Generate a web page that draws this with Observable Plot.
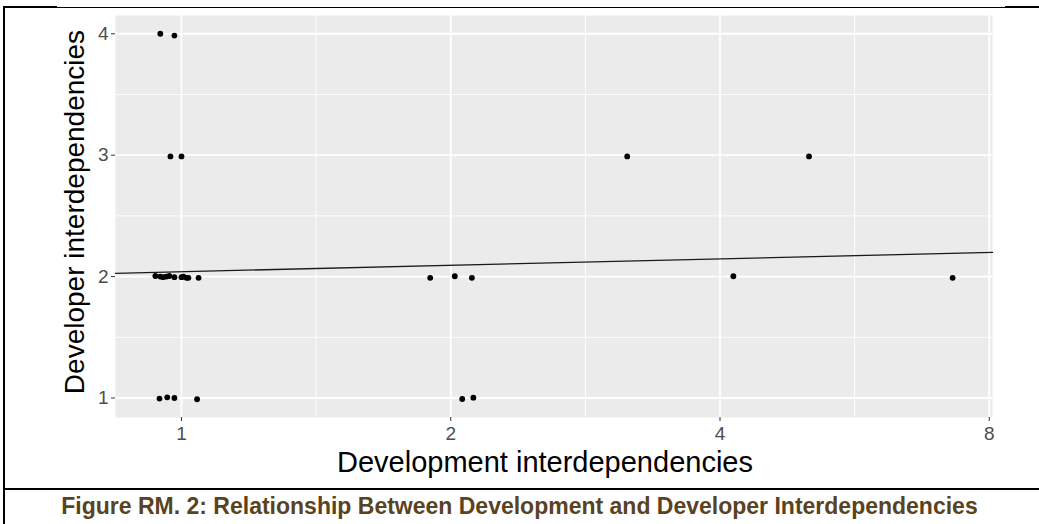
<!DOCTYPE html>
<html>
<head>
<meta charset="utf-8">
<script src="https://cdn.jsdelivr.net/npm/d3@7"></script>
<script src="https://cdn.jsdelivr.net/npm/@observablehq/plot@0.6"></script>
<style>
  body { margin: 0; background: #fff; font-family: "Liberation Sans", Arial, sans-serif; }
  #wrap { position: relative; width: 1039px; height: 524px; overflow: hidden; background: #fff; }
  #chart { position: absolute; left: 0; top: 0; }
  .b { position: absolute; background: #000; }
  .title { position: absolute; color: #000; font-size: 28px; line-height: 32px; white-space: nowrap; }
  #xtitle { left: 100px; width: 890px; top: 446px; text-align: center; font-size: 29px; }
  #ytitle { left: 75px; top: 212px; transform: translate(-50%, -50%) rotate(-90deg); }
  #caption { position: absolute; left: 0; width: 1039px; top: 493px; line-height: 27px; text-align: center;
             font-weight: bold; font-size: 23px; color: #5a4321; white-space: nowrap; }
</style>
</head>
<body>
<div id="wrap">
  <div id="chart"></div>
  <div class="title" id="xtitle">Development interdependencies</div>
  <div class="title" id="ytitle">Developer interdependencies</div>
  <div class="b" style="left:3px;top:6px;width:2px;height:518px"></div>
  <div class="b" style="left:3px;top:6px;width:54px;height:2px"></div>
  <div class="b" style="left:57px;top:7px;width:948px;height:1px"></div>
  <div class="b" style="left:1005px;top:6px;width:34px;height:2px"></div>
  <div class="b" style="left:3px;top:488px;width:1036px;height:2px"></div>
  <div id="caption">Figure RM. 2: Relationship Between Development and Developer Interdependencies</div>
</div>
<script>
// Development interdependencies (x, log2 axis) and developer interdependencies (y), jittered points
const devInterdep = [
  0.947, 0.982,                     // y ≈ 4
  0.972, 1.000, 3.15, 5.03,         // y ≈ 3
  0.935, 0.947, 0.954, 0.962, 0.969, 0.982, 1.000, 1.005, 1.013, 1.018, 1.045, // y ≈ 2 near 1
  1.897, 2.021, 2.112, 4.14, 7.28,  // y ≈ 2 others
  0.945, 0.964, 0.982, 1.041,       // y ≈ 1 near 1
  2.06, 2.12                        // y ≈ 1 near 2
];
const developerInterdep = [
  4.00, 3.985,
  2.99, 2.99, 2.99, 2.99,
  2.005, 2.00, 1.995, 2.00, 2.005, 1.995, 1.995, 2.00, 1.99, 1.99, 1.99,
  1.99, 2.003, 1.99, 2.003, 1.99,
  0.995, 1.006, 1.00, 0.99,
  0.992, 1.003
];
const xTicks = [1, 2, 4, 8];
const yTicks = [1, 2, 3, 4];
// fitted trend line: y = trendIntercept + trendSlope * log2(x)
const trendIntercept = 2.040;
const trendSlope = 0.053;

const points = devInterdep.map((x, i) => ({x, y: developerInterdep[i]}));

// ggplot-like 5% expansion of data range (x in log2 space)
const lx = d3.extent(devInterdep, d => Math.log2(d));
const lxPad = (lx[1] - lx[0]) * 0.05;
const xDomain = [Math.pow(2, lx[0] - lxPad), Math.pow(2, lx[1] + lxPad)];
const ye = d3.extent(developerInterdep);
const yPad = (ye[1] - ye[0]) * 0.05;
const yDomain = [ye[0] - yPad, ye[1] + yPad];

const xMinor = d3.pairs(xTicks).map(([a, b]) => Math.sqrt(a * b));
const yMinor = d3.pairs(yTicks).map(([a, b]) => (a + b) / 2);

const trend = xDomain.map(x => ({x, y: trendIntercept + trendSlope * Math.log2(x)}));

const chart = Plot.plot({
  width: 1039,
  height: 488,
  marginLeft: 115,
  marginRight: 47,
  marginTop: 15,
  marginBottom: 71,
  style: {fontFamily: "Liberation Sans, Arial, sans-serif", background: "transparent"},
  x: {type: "log", base: 2, domain: xDomain},
  y: {domain: yDomain},
  marks: [
    Plot.frame({fill: "#ebebeb", stroke: null}),
    Plot.ruleX(xMinor, {stroke: "#ffffff", strokeWidth: 0.9}),
    Plot.ruleY(yMinor, {stroke: "#ffffff", strokeWidth: 0.9}),
    Plot.ruleX(xTicks, {stroke: "#ffffff", strokeWidth: 1.8}),
    Plot.ruleY(yTicks, {stroke: "#ffffff", strokeWidth: 1.8}),
    Plot.line(trend, {x: "x", y: "y", stroke: "#1a1a1a", strokeWidth: 1.3}),
    Plot.dot(points, {x: "x", y: "y", r: 2.9, fill: "#000", stroke: null}),
    Plot.axisX(xTicks, {tickSize: 4, tickPadding: 5, stroke: "#333", fill: "#4d4d4d",
      fontSize: 19, tickFormat: d => String(d), label: null}),
    Plot.axisY(yTicks, {tickSize: 4, tickPadding: 3, stroke: "#333", fill: "#4d4d4d",
      fontSize: 19, tickFormat: d => String(d), label: null})
  ]
});
document.getElementById("chart").appendChild(chart);
</script>
</body>
</html>
